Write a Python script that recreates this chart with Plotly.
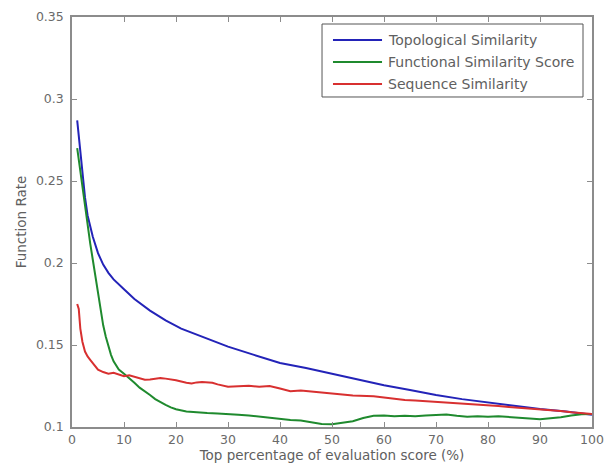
import plotly.graph_objects as go

# ---- data ----
topo_x = [1, 1.5, 2, 2.5, 3, 3.5, 4, 5, 6, 7, 8, 10, 12, 15, 18, 21, 25, 30, 35, 40,
          45, 50, 55, 60, 65, 70, 75, 80, 85, 90, 95, 100]
topo_y = [0.287, 0.272, 0.254, 0.240, 0.229, 0.222, 0.216, 0.206, 0.199, 0.194, 0.190,
          0.184, 0.178, 0.171, 0.165, 0.160, 0.155, 0.149, 0.144, 0.139, 0.136, 0.1325,
          0.129, 0.1255, 0.1225, 0.1195, 0.117, 0.1148, 0.113, 0.111, 0.1095, 0.1075]

seq_x = [1, 1.3, 1.6, 2, 2.5, 3, 3.5, 4, 4.5, 5, 6, 7, 8, 9, 10, 11, 12, 13, 14, 15,
         16, 17, 18, 19, 20, 22, 23, 24, 25, 27, 28, 30, 32, 34, 36, 38, 40, 42, 44, 46,
         48, 50, 52, 54, 56, 58, 60, 62, 64, 66, 68, 70, 72, 74, 76, 78, 80, 82, 84, 86,
         88, 90, 92, 94, 96, 98, 100]
seq_y = [0.175, 0.172, 0.160, 0.152, 0.146, 0.143, 0.141, 0.139, 0.137, 0.135, 0.1335,
         0.1325, 0.133, 0.1318, 0.131, 0.1315, 0.1305, 0.1295, 0.1288, 0.129, 0.1296,
         0.1298, 0.1295, 0.129, 0.1285, 0.127, 0.1265, 0.1272, 0.1275, 0.127, 0.126,
         0.1245, 0.1248, 0.1252, 0.1245, 0.125, 0.1235, 0.1218, 0.1222, 0.1215, 0.1208,
         0.1205, 0.1198, 0.1192, 0.119, 0.1188, 0.118, 0.1172, 0.1165, 0.1162, 0.1158,
         0.1155, 0.1148, 0.1145, 0.114, 0.1138, 0.1134, 0.1128, 0.1122, 0.1118, 0.1112,
         0.111, 0.1104, 0.1098, 0.109, 0.1085, 0.108]

func_x = [1, 1.5, 2, 2.5, 3, 3.5, 4, 4.5, 5, 5.5, 6, 6.5, 7, 7.5, 8, 9, 10, 11, 12, 13,
          14, 15, 16, 17, 18, 19, 20, 22, 24, 26, 28, 30, 32, 34, 36, 38, 40, 42, 44, 46,
          48, 50, 52, 54, 56, 58, 60, 62, 64, 66, 68, 70, 72, 74, 76, 78, 80, 82, 84, 86,
          88, 90, 92, 94, 96, 98, 100]
func_y = [0.270, 0.258, 0.245, 0.233, 0.222, 0.212, 0.202, 0.192, 0.180, 0.170, 0.162,
          0.155, 0.149, 0.144, 0.140, 0.135, 0.1325, 0.130, 0.127, 0.124, 0.122, 0.1195,
          0.117, 0.115, 0.1135, 0.112, 0.1108, 0.1095, 0.1088, 0.1085, 0.1082, 0.108,
          0.1075, 0.107, 0.1063, 0.1058, 0.105, 0.1043, 0.104, 0.1028, 0.1018, 0.1017,
          0.1024, 0.1035, 0.1055, 0.1068, 0.107, 0.1065, 0.1068, 0.1066, 0.107, 0.1072,
          0.1076, 0.1068, 0.1062, 0.1065, 0.1063, 0.1066, 0.106, 0.1055, 0.1052, 0.1048,
          0.1052, 0.106, 0.107, 0.1078, 0.108]

series_names = ["Topological Similarity", "Functional Similarity Score", "Sequence Similarity"]
series_colors = ["#2323b8", "#1f8a2e", "#d83030"]

x_ticks = [0, 10, 20, 30, 40, 50, 60, 70, 80, 90, 100]
y_ticks = [0.1, 0.15, 0.2, 0.25, 0.3, 0.35]
y_tick_text = ["0.1", "0.15", "0.2", "0.25", "0.3", "0.35"]

FONT = "DejaVu Sans, Verdana, sans-serif"

fig = go.Figure()
for xs, ys, nm, col in zip([topo_x, func_x, seq_x], [topo_y, func_y, seq_y],
                           series_names, series_colors):
    fig.add_trace(go.Scatter(x=xs, y=ys, mode="lines", name=nm, showlegend=False,
                             line=dict(color=col, width=2)))

axis_common = dict(
    showline=True, linecolor="#8c8c8c", linewidth=1.5, mirror="ticks",
    ticks="inside", ticklen=5, tickcolor="#8c8c8c", showgrid=False, zeroline=False,
    automargin=False,
    tickfont=dict(family=FONT, size=12.5, color="#6a6a6a"),
)

fig.update_layout(
    width=605, height=472,
    margin=dict(l=72, r=13, t=17, b=45, autoexpand=False),
    paper_bgcolor="white", plot_bgcolor="white",
    font=dict(family=FONT, size=12, color="#606060"),
    xaxis=dict(range=[0, 100], tickvals=x_ticks,
               title=dict(text="Top percentage of evaluation score (%)", standoff=4,
                          font=dict(family=FONT, size=13.5, color="#606060")),
               **axis_common),
    yaxis=dict(range=[0.1, 0.35], tickvals=y_ticks, ticktext=y_tick_text,
               ticklabelstandoff=4,
               title=dict(text="Function Rate", standoff=6,
                          font=dict(family=FONT, size=13.5, color="#606060")),
               **axis_common),
    showlegend=False,
)

# legend box drawn in paper coordinates (matches the reference's boxed legend)
lx0, lx1, ly0, ly1 = 0.4808, 0.9827, 0.8049, 0.9829
fig.add_shape(type="rect", xref="paper", yref="paper", x0=lx0, x1=lx1, y0=ly0, y1=ly1,
              line=dict(color="#555555", width=1), fillcolor="white", layer="above")
row_y = [0.9439, 0.8902, 0.8366]
for ry, nm, col in zip(row_y, series_names, series_colors):
    fig.add_shape(type="line", xref="paper", yref="paper", x0=0.5019, x1=0.5962,
                  y0=ry, y1=ry, line=dict(color=col, width=2), layer="above")
    fig.add_annotation(xref="paper", yref="paper", x=0.6040, y=ry, text=nm,
                       showarrow=False, xanchor="left", yanchor="middle",
                       font=dict(family=FONT, size=14, color="#606060"))

fig.write_html("out.html", config={"displayModeBar": False},
               post_script="document.body.style.margin='0';")
